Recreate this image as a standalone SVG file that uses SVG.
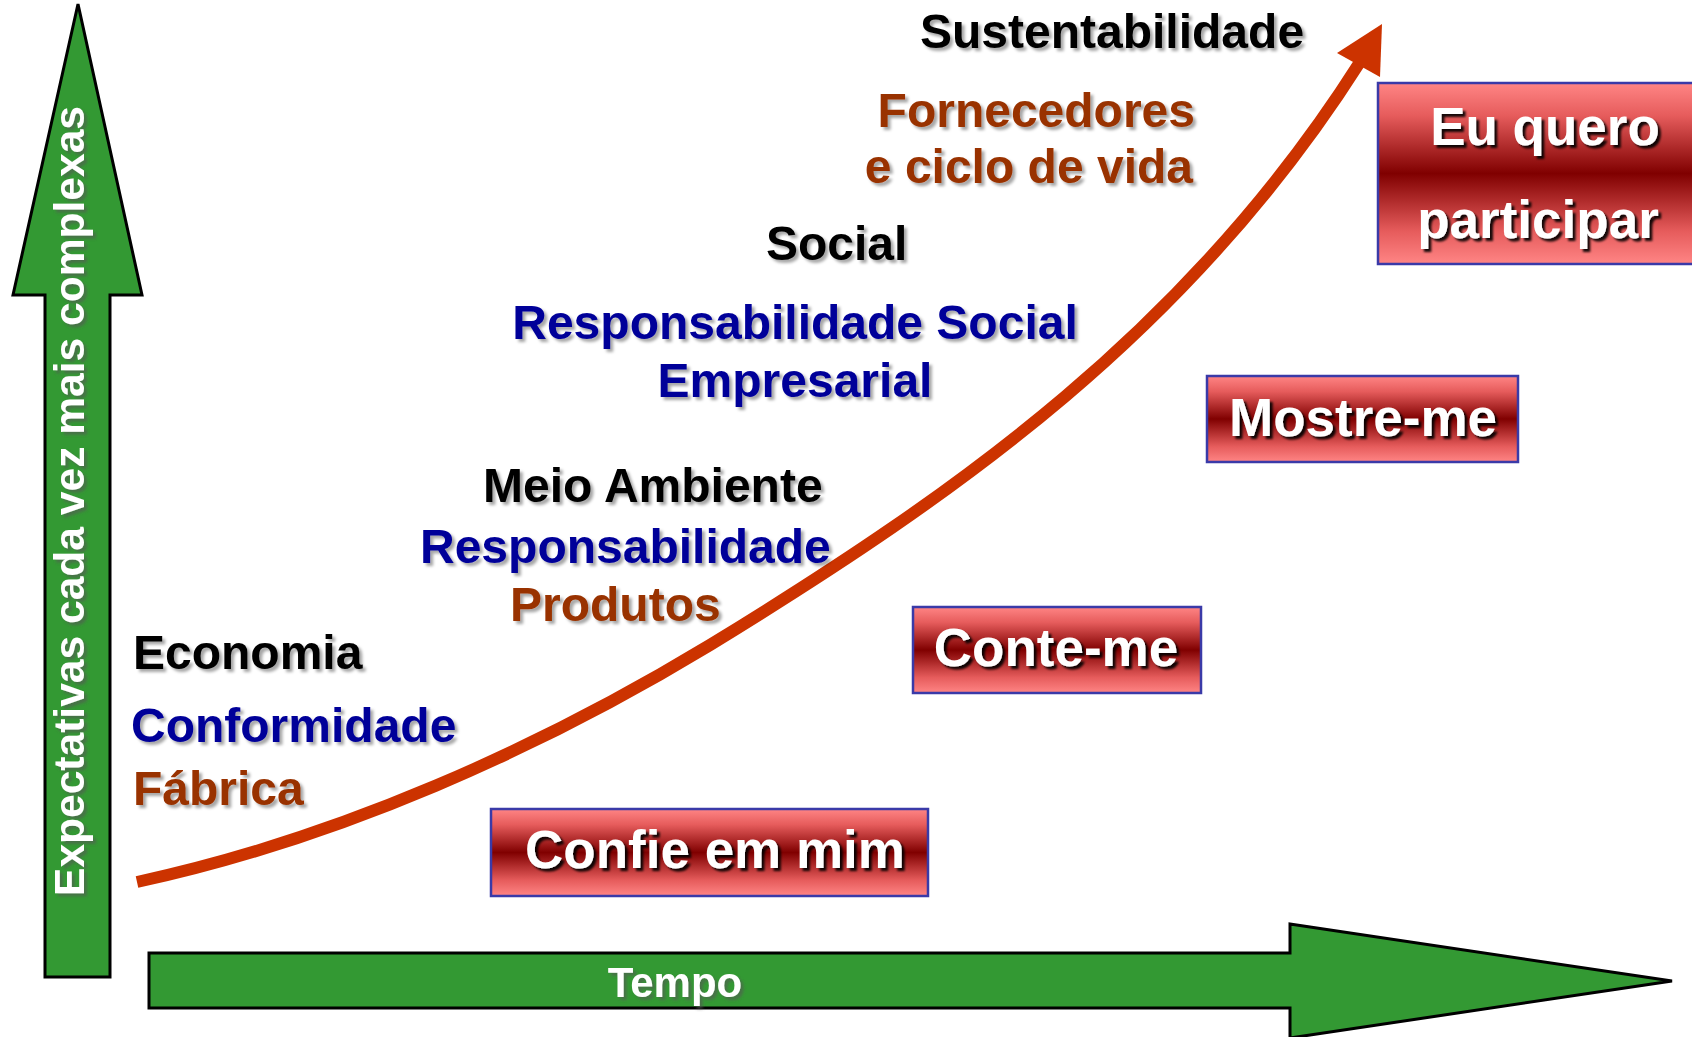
<svg xmlns="http://www.w3.org/2000/svg" width="1692" height="1037" viewBox="0 0 1692 1037">
<defs>
<linearGradient id="boxg" x1="0" y1="0" x2="0" y2="1">
<stop offset="0" stop-color="#ff8585"/>
<stop offset="0.18" stop-color="#e65c5c"/>
<stop offset="0.5" stop-color="#800000"/>
<stop offset="0.82" stop-color="#e65c5c"/>
<stop offset="1" stop-color="#ff8585"/>
</linearGradient>
<filter id="sh" x="-10%" y="-30%" width="120%" height="160%">
<feDropShadow dx="3" dy="3" stdDeviation="1.5" flood-color="#000" flood-opacity="0.35"/>
</filter>
<filter id="shw" x="-10%" y="-30%" width="120%" height="160%">
<feDropShadow dx="3" dy="3" stdDeviation="1" flood-color="#000" flood-opacity="0.9"/>
</filter>
<filter id="shg" x="-10%" y="-30%" width="120%" height="160%">
<feDropShadow dx="3" dy="3" stdDeviation="1.5" flood-color="#555" flood-opacity="0.6"/>
</filter>
</defs>
<style>
text{font-family:"Liberation Sans",Arial,sans-serif;font-weight:bold}
.lbl{font-size:48px}
.blk{fill:#000}
.blu{fill:#000099}
.brn{fill:#993300}
.box rect{fill:url(#boxg);stroke:#3a3aa8;stroke-width:2.5}
.box text{fill:#fff;font-size:53px}
.garrow{fill:#339933;stroke:#000;stroke-width:3;stroke-linejoin:miter}
.axis{fill:#fff;font-size:42px}
</style>
<rect width="1692" height="1037" fill="#fff"/>

<g id="axis-y">
<polygon class="garrow" points="78,4 142,295 110,295 110,977 45,977 45,295 13,295"/>
<g filter="url(#shg)"><text class="axis" transform="translate(84,896) rotate(-90)" x="0" y="0" textLength="790" lengthAdjust="spacingAndGlyphs">Expectativas cada vez mais complexas</text></g>
</g>

<g id="axis-x">
<polygon class="garrow" points="149,953 1290,953 1290,924 1672,981 1290,1038 1290,1008 149,1008"/>
<text class="axis" x="675" y="997" text-anchor="middle" filter="url(#shg)">Tempo</text>
</g>

<g id="connectors">
<path d="M137,882 C340,838 540,748 710,645 C960,492 1190,330 1360,62" fill="none" stroke="#cc3300" stroke-width="12"/>
<polygon points="1382,24 1337,53 1380,77" fill="#cc3300"/>
</g>

<g id="labels-economia" class="lbl" filter="url(#sh)">
<text class="blk" x="133" y="669">Economia</text>
<text class="blu" x="131" y="742">Conformidade</text>
<text class="brn" x="133" y="805">Fábrica</text>
</g>

<g id="labels-meio" class="lbl" filter="url(#sh)">
<text class="blk" x="483" y="502">Meio Ambiente</text>
<text class="blu" x="420" y="563">Responsabilidade</text>
<text class="brn" x="510" y="621">Produtos</text>
</g>

<g id="labels-social" class="lbl" filter="url(#sh)">
<text class="blk" x="766" y="260">Social</text>
<text class="blu" x="795" y="339" text-anchor="middle">Responsabilidade Social</text>
<text class="blu" x="795" y="397" text-anchor="middle">Empresarial</text>
</g>

<g id="labels-sust" class="lbl" filter="url(#sh)">
<text class="blk" x="920" y="48">Sustentabilidade</text>
<text class="brn" x="1195" y="127" text-anchor="end">Fornecedores</text>
<text class="brn" x="1193" y="183" text-anchor="end">e ciclo de vida</text>
</g>

<g id="box-confie" class="box">
<rect x="491" y="809" width="437" height="87"/>
<text x="715" y="868" text-anchor="middle" filter="url(#shw)">Confie em mim</text>
</g>

<g id="box-conte" class="box">
<rect x="913" y="607" width="288" height="86"/>
<text x="1056" y="666" text-anchor="middle" filter="url(#shw)">Conte-me</text>
</g>

<g id="box-mostre" class="box">
<rect x="1207" y="376" width="311" height="86"/>
<text x="1363" y="436" text-anchor="middle" filter="url(#shw)">Mostre-me</text>
</g>

<g id="box-eu" class="box">
<rect x="1378" y="83" width="320" height="181"/>
<text x="1545" y="145" text-anchor="middle" filter="url(#shw)">Eu quero</text>
<text x="1538" y="238" text-anchor="middle" filter="url(#shw)">participar</text>
</g>
</svg>
